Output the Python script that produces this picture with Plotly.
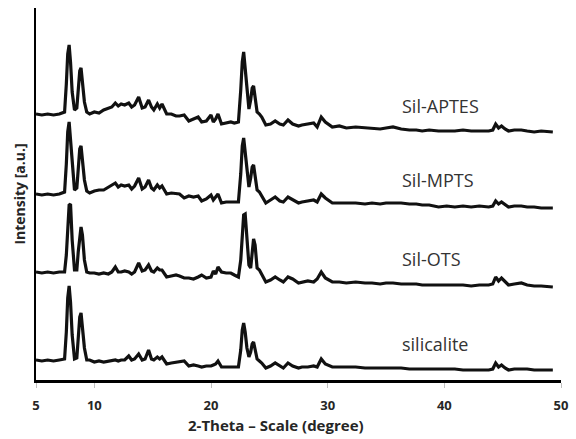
import plotly.graph_objects as go

# 2-theta grid (degrees)
two_theta = [
    5.0, 5.5, 6.0, 6.5, 7.0, 7.45, 7.6, 7.72, 7.84, 7.96,
    8.1, 8.3, 8.5, 8.62, 8.75, 8.86, 8.98, 9.15, 9.35, 9.6,
    10.0, 10.4, 10.8, 11.2,
    11.5, 11.8, 12.05, 12.3, 12.6, 12.95, 13.2, 13.45, 13.8, 14.1,
    14.35, 14.65, 14.9, 15.1, 15.4, 15.6, 15.8, 16.2, 16.6, 17.0,
    17.3, 17.7, 18.1, 18.5, 18.9, 19.2, 19.6, 20.0, 20.2, 20.4,
    20.6, 20.9, 21.3, 21.7, 22.0, 22.35, 22.55, 22.68, 22.8, 22.93,
    23.08, 23.25, 23.4, 23.53, 23.65, 23.78, 23.95, 24.15, 24.35, 24.7,
    25.1, 25.5, 25.9, 26.2,
    26.6, 27.0, 27.5, 27.8, 28.3, 28.8, 29.1, 29.45, 29.8, 30.4,
    31.0, 31.6, 32.4, 33.2, 33.8, 34.5, 35.0, 35.6, 36.3, 37.0,
    37.6, 38.1, 38.7, 39.5, 40.2, 40.9, 41.6, 42.3, 43.0, 43.8,
    44.15, 44.4, 44.65, 44.9, 45.2, 45.5, 46.0, 46.6, 47.1, 47.7,
    48.3, 49.0, 49.3,
]

# Intensities (a.u., stacked as displayed)
sil_aptes = [
    266, 265, 266, 265, 266, 268, 296, 326, 335, 318,
    288, 270, 272, 292, 309, 312, 298, 278, 268, 266,
    268, 267, 270, 272,
    273, 277, 274, 276, 275, 277, 273, 275, 283, 272,
    273, 280, 273, 270, 276, 272, 276, 266, 266, 264,
    264, 265, 259, 261, 263, 258, 259, 265, 258, 261,
    266, 256, 257, 258, 257, 258, 290, 318, 328, 312,
    285, 271, 280, 292, 294, 280, 268, 266, 263, 255,
    256, 259, 256, 255,
    260, 256, 254, 255, 256, 257, 253, 263, 258, 253,
    254, 252, 253, 252, 252, 251, 252, 253, 251, 250,
    250, 249, 250, 249, 249, 249, 250, 249, 249, 249,
    250, 256, 252, 254, 251, 249, 250, 250, 249, 248,
    249, 248, 248,
]
sil_mpts = [
    186, 185, 186, 185, 186, 188, 216, 248, 258, 240,
    210, 190, 192, 214, 231, 234, 220, 200, 189, 187,
    189, 190, 190, 193,
    195, 197, 193, 195, 194, 195, 191, 194, 202, 191,
    193, 200, 192, 190, 195, 192, 194, 186, 187, 186,
    186, 182, 184, 183, 184, 179, 181, 185, 180, 183,
    186, 177, 178, 178, 178, 178, 206, 234, 242, 228,
    205, 193, 202, 213, 215, 203, 190, 188, 184, 177,
    180, 183, 179, 178,
    183, 180, 177, 178, 179, 180, 178, 186, 182, 177,
    177, 177, 177, 176, 177, 176, 177, 177, 177, 176,
    176, 175, 175, 173, 174, 173, 174, 173, 174, 173,
    174, 179, 176, 178, 175, 173, 174, 174, 173, 173,
    172, 172, 172,
]
sil_ots = [
    108, 107, 108, 107, 108, 108, 125, 155, 175, 176,
    140, 110, 110, 128, 147, 153, 145, 120, 108, 107,
    107, 106, 107, 106,
    108, 113, 108, 108, 109, 108, 106, 108, 117, 109,
    110, 115, 109, 108, 112, 110, 110, 103, 104, 105,
    104, 102, 102, 101, 103, 105, 102, 103, 109, 106,
    113, 108, 107, 107, 105, 103, 120, 150, 165, 166,
    140, 115, 112, 130, 141, 135, 112, 110, 106, 98,
    100, 103, 100, 98,
    103, 101, 97, 98, 99, 98, 101, 108, 102, 98,
    98, 97, 98, 97, 97, 96, 97, 97, 96, 96,
    96, 95, 95, 95, 95, 95, 95, 94, 95, 95,
    96, 103, 99, 102, 98, 95, 96, 97, 95, 94,
    94, 93, 93,
]
silicalite = [
    20, 19, 20, 19, 20, 21, 48, 82, 94, 78,
    45, 21, 22, 44, 63, 67, 55, 32, 20, 20,
    18, 19, 18, 19,
    19, 20, 19, 20, 20, 24, 20, 21, 26, 20,
    21, 30, 21, 20, 23, 21, 23, 16, 17, 18,
    18, 19, 14, 15, 14, 13, 14, 14, 15, 16,
    19, 13, 13, 13, 13, 13, 30, 50, 57, 48,
    32, 23, 28, 36, 38, 30, 21, 19, 17, 12,
    14, 17, 14, 12,
    17, 14, 12, 13, 13, 14, 13, 21, 16, 13,
    13, 13, 13, 12, 12, 12, 12, 12, 12, 11,
    11, 11, 11, 11, 11, 11, 10, 10, 10, 10,
    11, 17, 13, 15, 12, 10, 11, 11, 11, 10,
    10, 10, 10,
]

series_names = ["Sil-APTES", "Sil-MPTS", "Sil-OTS", "silicalite"]
series_values = [sil_aptes, sil_mpts, sil_ots, silicalite]
label_y = [274, 200, 121, 36]
label_x = 36.2

x_ticks = [5, 10, 20, 30, 40, 50]

for v in series_values:
    assert len(v) == len(two_theta), len(v)

fig = go.Figure()
for name, vals in zip(series_names, series_values):
    fig.add_trace(go.Scatter(
        x=two_theta, y=vals, mode="lines", name=name,
        line=dict(color="#111111", width=3.2),
    ))

for name, ly in zip(series_names, label_y):
    fig.add_annotation(
        x=label_x, y=ly, xref="x", yref="y", text=name, showarrow=False,
        xanchor="left", yanchor="middle",
        font=dict(family="Open Sans", size=18, color="#333333"),
    )

fig.add_annotation(
    x=25.55, y=-0.121, xref="x", yref="paper", text="2-Theta – Scale (degree)",
    showarrow=False, xanchor="center", yanchor="middle",
    font=dict(family="Open Sans", size=15, color="#262626", weight="bold"),
)

fig.update_layout(
    width=576, height=439,
    margin=dict(l=36, r=13, t=8, b=59),
    paper_bgcolor="white", plot_bgcolor="white",
    showlegend=False,
    xaxis=dict(
        range=[5, 50], tickvals=x_ticks, ticktext=[str(t) for t in x_ticks],
        showline=True, linecolor="black", linewidth=3,
        showgrid=False, zeroline=False,
        ticks="outside", ticklen=5, tickwidth=1, tickcolor="#bfbfbf",
        ticklabelstandoff=6,
        tickfont=dict(family="Open Sans", size=13, color="#262626", weight="bold"),
    ),
    yaxis=dict(
        range=[0, 372], showticklabels=False, ticks="",
        showline=True, linecolor="black", linewidth=2,
        showgrid=False, zeroline=False,
        title=dict(text="Intensity [a.u.]", standoff=5,
                   font=dict(family="Open Sans", size=14, color="#262626", weight="bold")),
    ),
)

fig.write_html("out.html")
